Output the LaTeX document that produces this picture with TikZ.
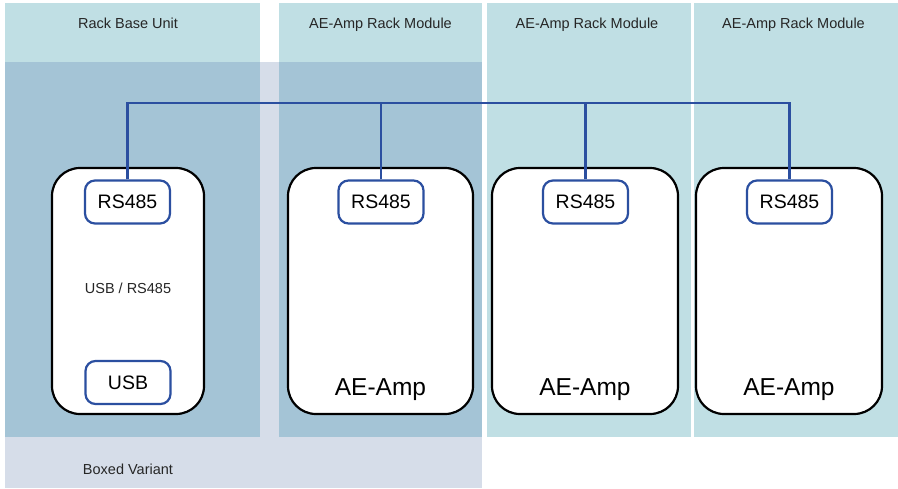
\documentclass[tikz,border=0pt]{standalone}
\usepackage{fontspec}
\setmainfont{Liberation Sans}
\usetikzlibrary{positioning}

\definecolor{rackteal}{HTML}{C0DFE4}
\definecolor{rackdark}{HTML}{A4C4D6}
\definecolor{boxedbg}{HTML}{D6DDE9}
\definecolor{busblue}{HTML}{2B4FA0}

\tikzstyle{module} = [rectangle, rounded corners=28pt, draw=black, line width=2.2pt, fill=white, minimum height=246pt, inner sep=0pt]
\tikzstyle{port} = [rectangle, rounded corners=10pt, draw=busblue, line width=2.2pt, fill=white, minimum width=85pt, minimum height=43pt, inner sep=0pt, font=\fontsize{19.5}{22}\selectfont]
\tikzstyle{title} = [anchor=base, text=black!85, font=\fontsize{14.5}{17}\selectfont]
\tikzstyle{amp} = [anchor=base, font=\fontsize{24.5}{28}\selectfont]
\tikzstyle{bus} = [draw=busblue, line width=2.2pt]

\begin{document}
\begin{tikzpicture}[x=1pt, y=-1pt]
\useasboundingbox (0,0) rectangle (898,488);

%背景区域
\fill[boxedbg] (5,62) rectangle (482,488);
\fill[rackteal] (5,3) rectangle (260,62);
\fill[rackdark] (5,62) rectangle (260,437);
\fill[rackteal] (279,3) rectangle (482,62);
\fill[rackdark] (279,62) rectangle (482,437);
\fill[rackteal] (487,3) rectangle (691,437);
\fill[rackteal] (694,3) rectangle (898,437);

%标题
\node (baseT) [title] at (128,28) {Rack Base Unit};
\node (modT1) [title] at (380.5,28) {AE-Amp Rack Module};
\node (modT2) [title] at (587,28) {AE-Amp Rack Module};
\node (modT3) [title] at (793.5,28) {AE-Amp Rack Module};
\node (boxedT) [title] at (128,474) {Boxed Variant};

%模块
\node (base) [module, minimum width=152pt] at (128,291) {};
\node (amp1) [module, minimum width=185pt] at (380.5,291) {};
\node (amp2) [module, minimum width=186pt] at (585,291) {};
\node (amp3) [module, minimum width=186pt] at (789,291) {};

\node (baseL) [title] at (128,293) {USB / RS485};
\node (amp1L) [amp] at (amp1 |- 0,395) {AE-Amp};
\node (amp2L) [amp] at (amp2 |- 0,395) {AE-Amp};
\node (amp3L) [amp] at (amp3 |- 0,395) {AE-Amp};

%接口
\node (rs1) [port] at (127.5,202) {RS485};
\node (usb) [port] at (128,382.5) {USB};
\node (rs2) [port] at (381,202) {RS485};
\node (rs3) [port] at (585.5,202) {RS485};
\node (rs4) [port] at (789.5,202) {RS485};

%总线
\coordinate (busline) at (0,103);
\draw [bus] (rs1.north) |- (rs4.north |- busline) -- (rs4.north);
\draw [bus] (rs2.north) -- (rs2.north |- busline);
\draw [bus] (rs3.north) -- (rs3.north |- busline);

\end{tikzpicture}
\end{document}
